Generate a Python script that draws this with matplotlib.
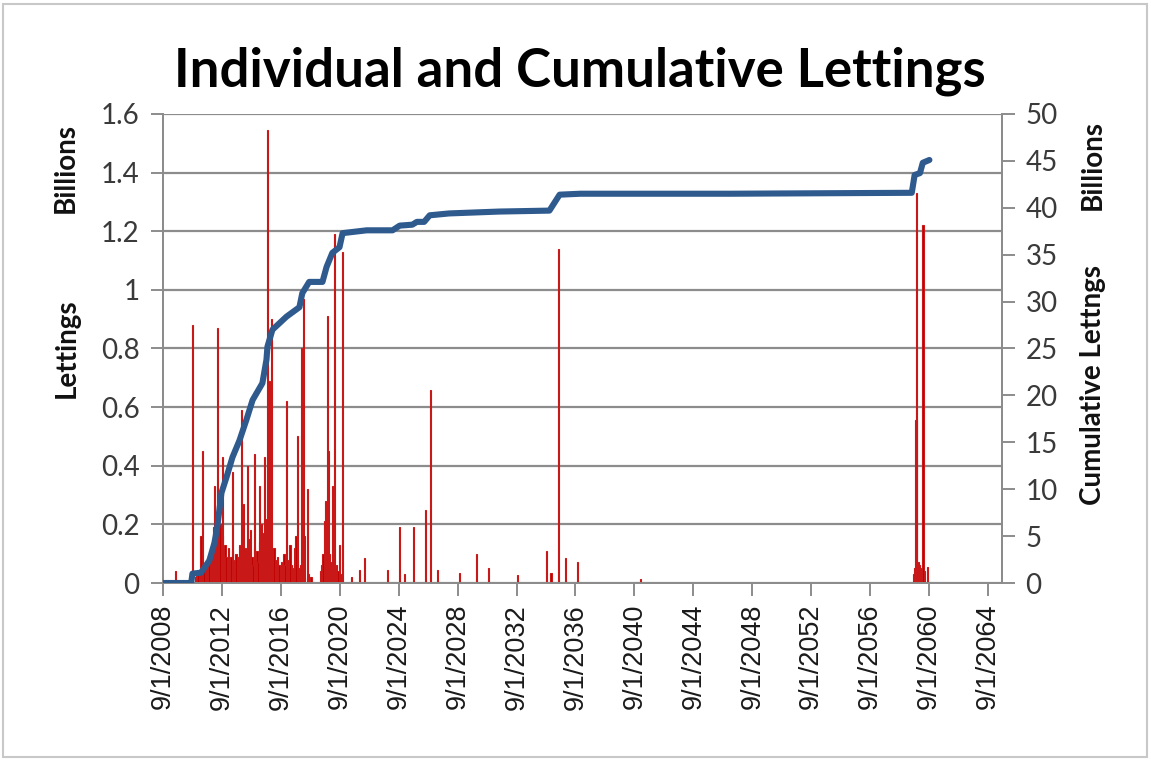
import numpy as np
import pandas as pd
import matplotlib
matplotlib.use("Agg")
import matplotlib.pyplot as plt
from matplotlib.patches import Rectangle

## individual lettings (billions) - date of letting and amount
let_dates = [
    "2009-07-05", "2010-09-01", "2011-04-01", "2011-05-10",
    # dense block of monthly lettings 2010-2018
    "2010-11-15", "2010-12-15",
    "2011-01-15", "2011-02-15", "2011-03-15", "2011-04-15", "2011-05-15", "2011-06-15",
    "2011-07-15", "2011-08-15", "2011-09-15", "2011-10-15", "2011-11-15", "2011-12-15",
    "2012-01-15", "2012-02-15", "2012-03-15", "2012-04-15", "2012-05-15", "2012-06-15",
    "2012-07-15", "2012-08-15", "2012-09-15", "2012-10-15", "2012-11-15", "2012-12-15",
    "2013-01-15", "2013-02-15", "2013-03-15", "2013-04-15", "2013-05-15", "2013-06-15",
    "2013-07-15", "2013-08-15", "2013-09-15", "2013-10-15", "2013-11-15", "2013-12-15",
    "2014-01-15", "2014-02-15", "2014-03-15", "2014-04-15", "2014-05-15", "2014-06-15",
    "2014-07-15", "2014-08-15", "2014-09-15", "2014-10-15", "2014-11-15", "2014-12-15",
    "2015-01-15", "2015-02-15", "2015-03-15", "2015-04-15", "2015-05-15", "2015-06-15",
    "2015-07-15", "2015-08-15", "2015-09-15", "2015-10-15", "2015-11-15", "2015-12-15",
    "2016-01-15", "2016-02-15", "2016-03-15", "2016-04-15", "2016-05-15", "2016-06-15",
    "2016-07-15", "2016-08-15", "2016-09-15", "2016-10-15", "2016-11-15", "2016-12-15",
    "2017-01-15", "2017-02-15", "2017-03-15", "2017-04-15", "2017-05-15", "2017-06-15",
    "2017-07-15", "2017-08-15", "2017-09-15", "2017-10-15", "2017-11-15", "2017-12-15",
    "2018-01-15", "2018-02-15", "2018-03-15", "2018-04-15", "2018-07-15", "2018-09-15",
    # 2019/2020 block
    "2019-05-15", "2019-06-15", "2019-07-15", "2019-08-15", "2019-09-15", "2019-10-15",
    "2019-12-20", "2020-01-15", "2020-02-15", "2020-03-20", "2020-05-15", "2020-06-15",
    "2020-07-15", "2020-09-15", "2020-10-15",
    # big single lettings
    "2012-03-01", "2012-05-10", "2012-09-10", "2013-05-20", "2014-01-01", "2014-05-25",
    "2014-11-15", "2015-03-20", "2015-07-20", "2015-10-05", "2015-11-20", "2016-01-10",
    "2017-01-20", "2017-10-20", "2018-01-25", "2018-03-10", "2018-04-15", "2018-06-25",
    "2019-11-01", "2019-12-01", "2020-03-05", "2020-04-20", "2020-08-25", "2020-11-10",
    # later years
    "2021-06-20", "2022-01-01", "2022-05-10", "2023-12-01", "2024-09-20", "2025-01-20",
    "2025-09-01", "2026-06-25", "2026-11-01", "2027-04-20", "2028-10-20", "2029-12-20",
    "2030-10-10", "2032-10-01", "2034-09-20", "2035-01-01", "2035-07-10", "2036-01-01",
    "2036-10-20", "2040-10-20", "2041-01-25",
    "2059-08-20", "2059-09-20", "2059-10-10", "2059-11-01", "2059-12-10", "2060-01-01",
    "2060-02-25", "2060-04-05", "2060-05-10", "2060-07-20",
]
let_values = [
    0.04, 0.88, 0.16, 0.45,
    0.02, 0.03,
    0.03, 0.04, 0.02, 0.05, 0.06, 0.04,
    0.07, 0.05, 0.08, 0.06, 0.10, 0.12,
    0.15, 0.19, 0.12, 0.16, 0.10, 0.14,
    0.20, 0.11, 0.16, 0.08, 0.13, 0.09,
    0.07, 0.12, 0.06, 0.09, 0.11, 0.05,
    0.08, 0.10, 0.06, 0.09, 0.13, 0.07,
    0.10, 0.27, 0.08, 0.12, 0.07, 0.15,
    0.10, 0.18, 0.09, 0.06, 0.12, 0.08,
    0.11, 0.07, 0.14, 0.09, 0.20, 0.12,
    0.17, 0.10, 0.22, 0.13, 0.08, 0.15,
    0.10, 0.06, 0.12, 0.08, 0.05, 0.09,
    0.06, 0.04, 0.07, 0.05, 0.10, 0.06,
    0.04, 0.08, 0.05, 0.13, 0.06, 0.03,
    0.05, 0.12, 0.16, 0.08, 0.05, 0.04,
    0.06, 0.03, 0.05, 0.02, 0.03, 0.02,
    0.04, 0.06, 0.10, 0.21, 0.28, 0.16,
    0.10, 0.07, 0.05, 0.04, 0.03, 0.06,
    0.04, 0.02, 0.03,
    0.33, 0.87, 0.43, 0.38, 0.59, 0.40,
    0.44, 0.33, 0.43, 1.545, 0.69, 0.90,
    0.62, 0.50, 0.80, 0.97, 0.16, 0.32,
    0.91, 0.45, 0.33, 1.19, 0.13, 1.13,
    0.02, 0.045, 0.085, 0.045, 0.19, 0.03,
    0.19, 0.25, 0.66, 0.045, 0.035, 0.10,
    0.05, 0.027, 0.11, 0.035, 1.14, 0.085,
    0.07, 0.005, 0.012,
    0.03, 0.05, 0.556, 1.33, 0.07, 0.06,
    0.05, 1.22, 0.04, 0.055,
]

## cumulative lettings (billions)
cum_dates = [
    "2008-09-01", "2010-08-01", "2010-09-01", "2011-04-01", "2011-10-25", "2012-03-01",
    "2012-05-10", "2012-08-20", "2012-12-25", "2013-05-20", "2013-11-10", "2014-05-01",
    "2014-10-01", "2015-06-01", "2015-09-10", "2015-10-05", "2016-02-05", "2017-01-20",
    "2017-12-05", "2018-02-15", "2018-08-05", "2019-06-30", "2019-10-10", "2020-03-01",
    "2020-08-25", "2020-11-10", "2022-07-01", "2024-04-01", "2024-09-25", "2025-08-05",
    "2025-11-25", "2026-05-25", "2026-10-10", "2028-02-05", "2031-07-01", "2034-11-25",
    "2035-08-05", "2037-01-01", "2047-03-01", "2059-07-01", "2059-09-10", "2060-01-20",
    "2060-03-30", "2060-09-10",
]
cum_values = [
    0.0, 0.0, 1.0, 1.1, 2.4, 4.3,
    6.0, 9.6, 11.3, 13.4, 15.2, 17.4,
    19.5, 21.3, 23.8, 25.2, 27.0, 28.4,
    29.4, 30.9, 32.1, 32.1, 33.7, 35.2,
    35.8, 37.3, 37.6, 37.6, 38.1, 38.2,
    38.5, 38.5, 39.2, 39.4, 39.6, 39.7,
    41.4, 41.5, 41.5, 41.6, 43.5, 43.7,
    44.8, 45.1,
]

tick_years = list(range(2008, 2065, 4))

let_x = pd.to_datetime(let_dates)
cum_x = pd.to_datetime(cum_dates)

W, H = 1151, 761
fig = plt.figure(figsize=(W / 100, H / 100), dpi=100)
ax = fig.add_axes([163 / W, 1 - 583 / H, (1002 - 163) / W, (583 - 114) / H])
ax2 = ax.twinx()

grid_col = "#8c8c8c"
txt_col = "#3a3a3a"

ax.bar(let_x, let_values, width=pd.Timedelta(days=33), color="#C00000",
       edgecolor="#C81818", linewidth=0.8, zorder=3)
ax.set_ylim(0, 1.6)
ax.set_yticks(np.arange(0, 1.61, 0.2))
ax.set_yticklabels([f"{v:g}" for v in np.round(np.arange(0, 1.61, 0.2), 1)])
ax.yaxis.grid(True, color=grid_col, linewidth=1.6, zorder=0)
ax.set_axisbelow(True)

ax.set_xlim(pd.Timestamp("2008-09-01"), pd.Timestamp("2065-08-15"))
ticks = [pd.Timestamp(f"{y}-09-01") for y in tick_years]
ax.set_xticks(ticks)
ax.set_xticklabels([f"{t.month}/{t.day}/{t.year}" for t in ticks], rotation=90,
                   fontsize=19.5, family="Liberation Sans", color="#1a1a1a")

ax2.plot(cum_x, cum_values, color="#2F5A8E", linewidth=4.4, solid_capstyle="round",
         solid_joinstyle="round", zorder=4)
ax2.set_ylim(0, 50)
ax2.set_yticks(range(0, 51, 5))

for a in (ax, ax2):
    for s in a.spines.values():
        s.set_color(grid_col)
        s.set_linewidth(1.4)
    a.spines["top"].set_visible(False)
    a.tick_params(axis="both", colors=grid_col, length=9, width=1.4, labelcolor=txt_col)

ax.tick_params(axis="y", labelsize=20, pad=8)
ax2.tick_params(axis="y", labelsize=20, pad=8)
ax.tick_params(axis="x", labelcolor="#1a1a1a", pad=6)
for lab in ax.get_yticklabels() + ax2.get_yticklabels():
    lab.set_family("Lato")

fig.text(580 / W, 1 - 86 / H, "Individual and Cumulative Lettings", ha="center",
         va="baseline", fontsize=38, fontweight="bold", family="Lato")

lab_kw = dict(rotation=90, ha="center", va="center", fontsize=20, fontweight="bold",
              family="Lato", color="#111111")
fig.text(66 / W, 1 - 168 / H, "Billions", **lab_kw)
fig.text(67 / W, 1 - 348 / H, "Lettings", **lab_kw)
fig.text(1093 / W, 1 - 165 / H, "Billions", **lab_kw)
fig.text(1093 / W, 1 - 385 / H, "Cumulative Lettngs", **lab_kw)

fig.patches.append(Rectangle((3 / W, 4 / H), (W - 7) / W, (H - 8) / H,
                             transform=fig.transFigure, fill=False,
                             edgecolor="#c8c8c8", linewidth=1.5))

fig.savefig("out.png", dpi=100)
